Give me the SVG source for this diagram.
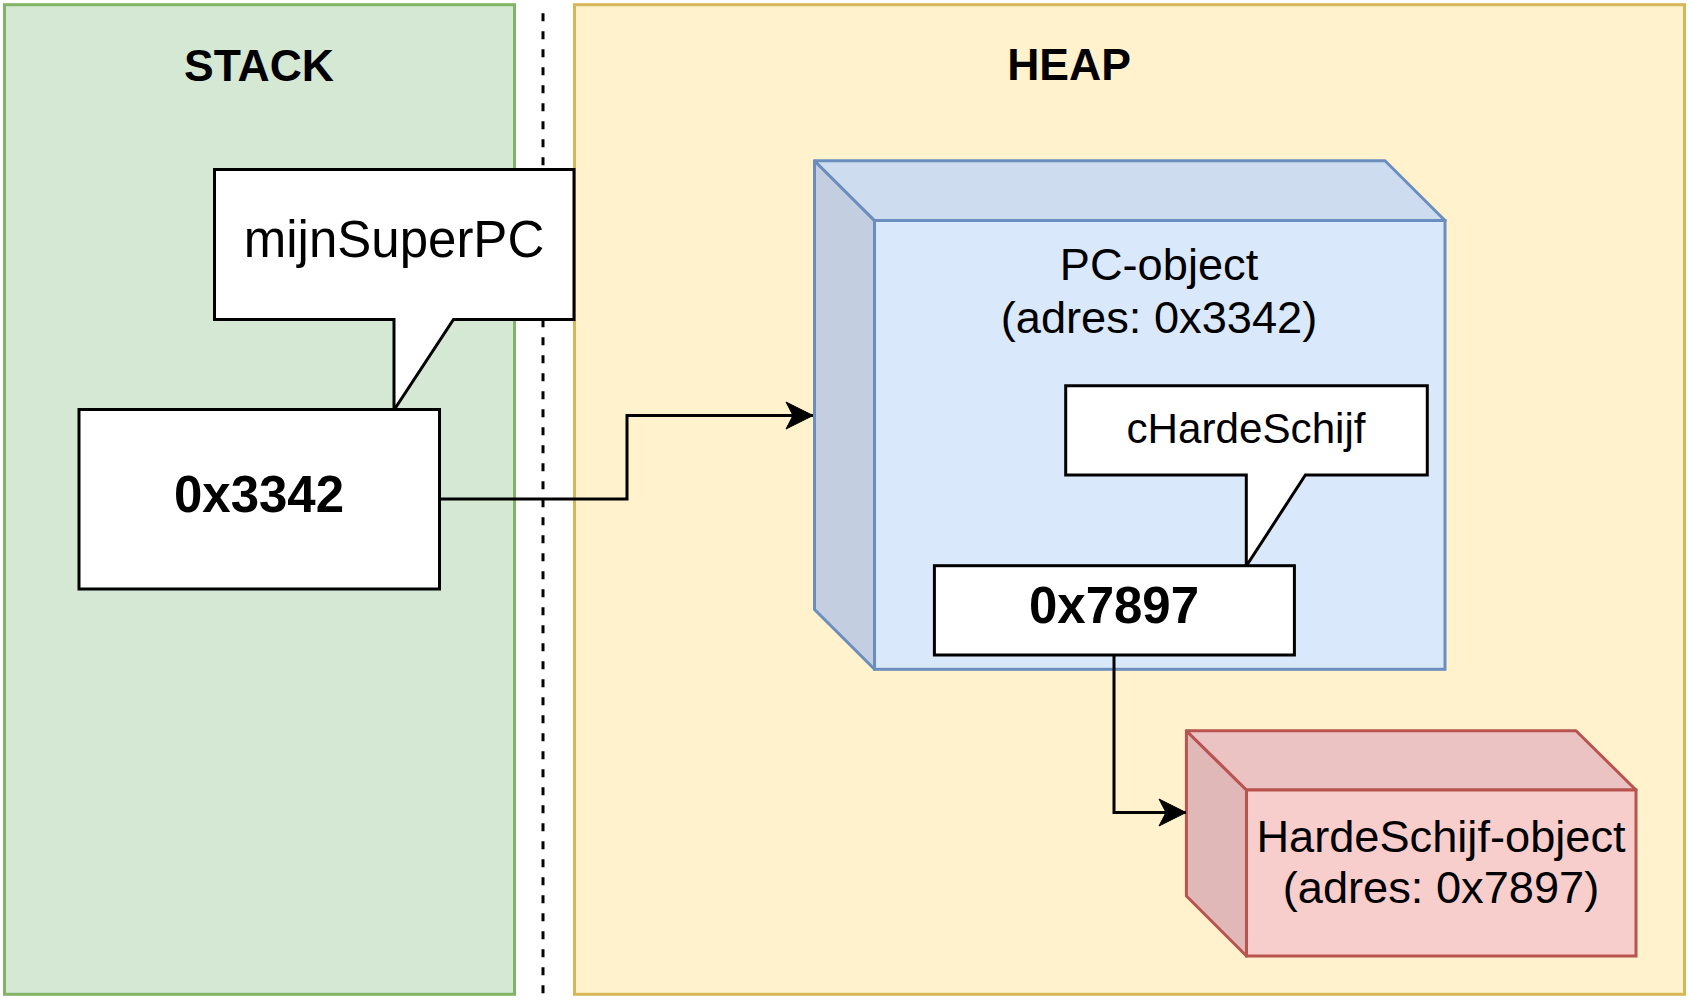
<svg xmlns="http://www.w3.org/2000/svg" width="1689" height="1002" viewBox="0 0 1689 1002">
<style>
text{font-family:"Liberation Sans",Arial,Helvetica,sans-serif;fill:#000;text-anchor:middle}
.title{font-size:44.5px;font-weight:bold}
.addr{font-size:51px;font-weight:bold}
.lbl{font-size:45.2px}
.bx{fill:#fff;stroke:#000;stroke-width:3}
.edge{fill:none;stroke:#000;stroke-width:3}
</style>
<defs>
<marker id="arrow" markerUnits="userSpaceOnUse" markerWidth="30" markerHeight="30" viewBox="-28 -15 30 30" refX="0" refY="0" orient="auto">
<path d="M0 0 L-27 -13.5 L-20 0 L-27 13.5 Z" fill="#000" stroke="#000" stroke-width="1"/>
</marker>
</defs>
<rect width="1689" height="1002" fill="#fff"/>
<g id="heap">
<rect x="574.5" y="4.7" width="1110" height="989.6" fill="#fff2cc" stroke="#d6b656" stroke-width="3"/>
<text class="title" x="1069" y="80">HEAP</text>
</g>
<g id="stack">
<rect x="4.5" y="4.7" width="510" height="989.6" fill="#d5e8d4" stroke="#82b366" stroke-width="3"/>
<text class="title" x="259" y="81">STACK</text>
</g>
<g id="divider">
<line x1="543" y1="13.3" x2="543" y2="995" stroke="#000" stroke-width="3" stroke-dasharray="8 10"/>
</g>
<g id="pc-object">
<polygon points="814.5,160.8 874.5,220.5 874.5,669.3 814.5,609.5" fill="#c3cee1" stroke="#6c8ebf" stroke-width="3" stroke-linejoin="round"/>
<polygon points="814.5,160.8 1385,160.8 1445,220.5 874.5,220.5" fill="#cedcf0" stroke="#6c8ebf" stroke-width="3" stroke-linejoin="round"/>
<rect x="874.5" y="220.5" width="570.5" height="448.8" fill="#dae8fc" stroke="#6c8ebf" stroke-width="3"/>
<text class="lbl" x="1159" y="280">PC-object</text>
<text class="lbl" x="1159" y="333">(adres: 0x3342)</text>
</g>
<g id="callout-mijnSuperPC">
<path class="bx" d="M214.5 169.5 H574 V319.5 H453.5 L394 410 V319.5 H214.5 Z"/>
<text x="394" y="257" style="font-size:51px">mijnSuperPC</text>
</g>
<g id="box-0x3342">
<rect class="bx" x="79" y="409.5" width="360.5" height="179.5"/>
<text class="addr" x="259" y="512">0x3342</text>
</g>
<g id="callout-cHardeSchijf">
<path class="bx" d="M1065.7 385.7 H1427.3 V475 H1305.4 L1246.3 566 V475 H1065.7 Z"/>
<text x="1246" y="443" style="font-size:42.2px">cHardeSchijf</text>
</g>
<g id="box-0x7897">
<rect class="bx" x="934.4" y="565.7" width="360" height="89.3"/>
<text class="addr" x="1114" y="623">0x7897</text>
</g>
<g id="hardeschijf-object">
<polygon points="1186.4,730.7 1246.5,790 1246.5,956 1186.4,896" fill="#e0b8b8" stroke="#b85450" stroke-width="3" stroke-linejoin="round"/>
<polygon points="1186.4,730.7 1576,730.7 1636,790 1246.5,790" fill="#ebc3c3" stroke="#b85450" stroke-width="3" stroke-linejoin="round"/>
<rect x="1246.5" y="790" width="389.5" height="166" fill="#f8cecc" stroke="#b85450" stroke-width="3"/>
<text class="lbl" x="1441" y="852">HardeSchijf-object</text>
<text class="lbl" x="1441" y="903">(adres: 0x7897)</text>
</g>
<g id="connectors">
<path class="edge" d="M439.5 499 H627 V415.5 H813" marker-end="url(#arrow)"/>
<path class="edge" d="M1114 655 V812.5 H1186" marker-end="url(#arrow)"/>
</g>
</svg>
